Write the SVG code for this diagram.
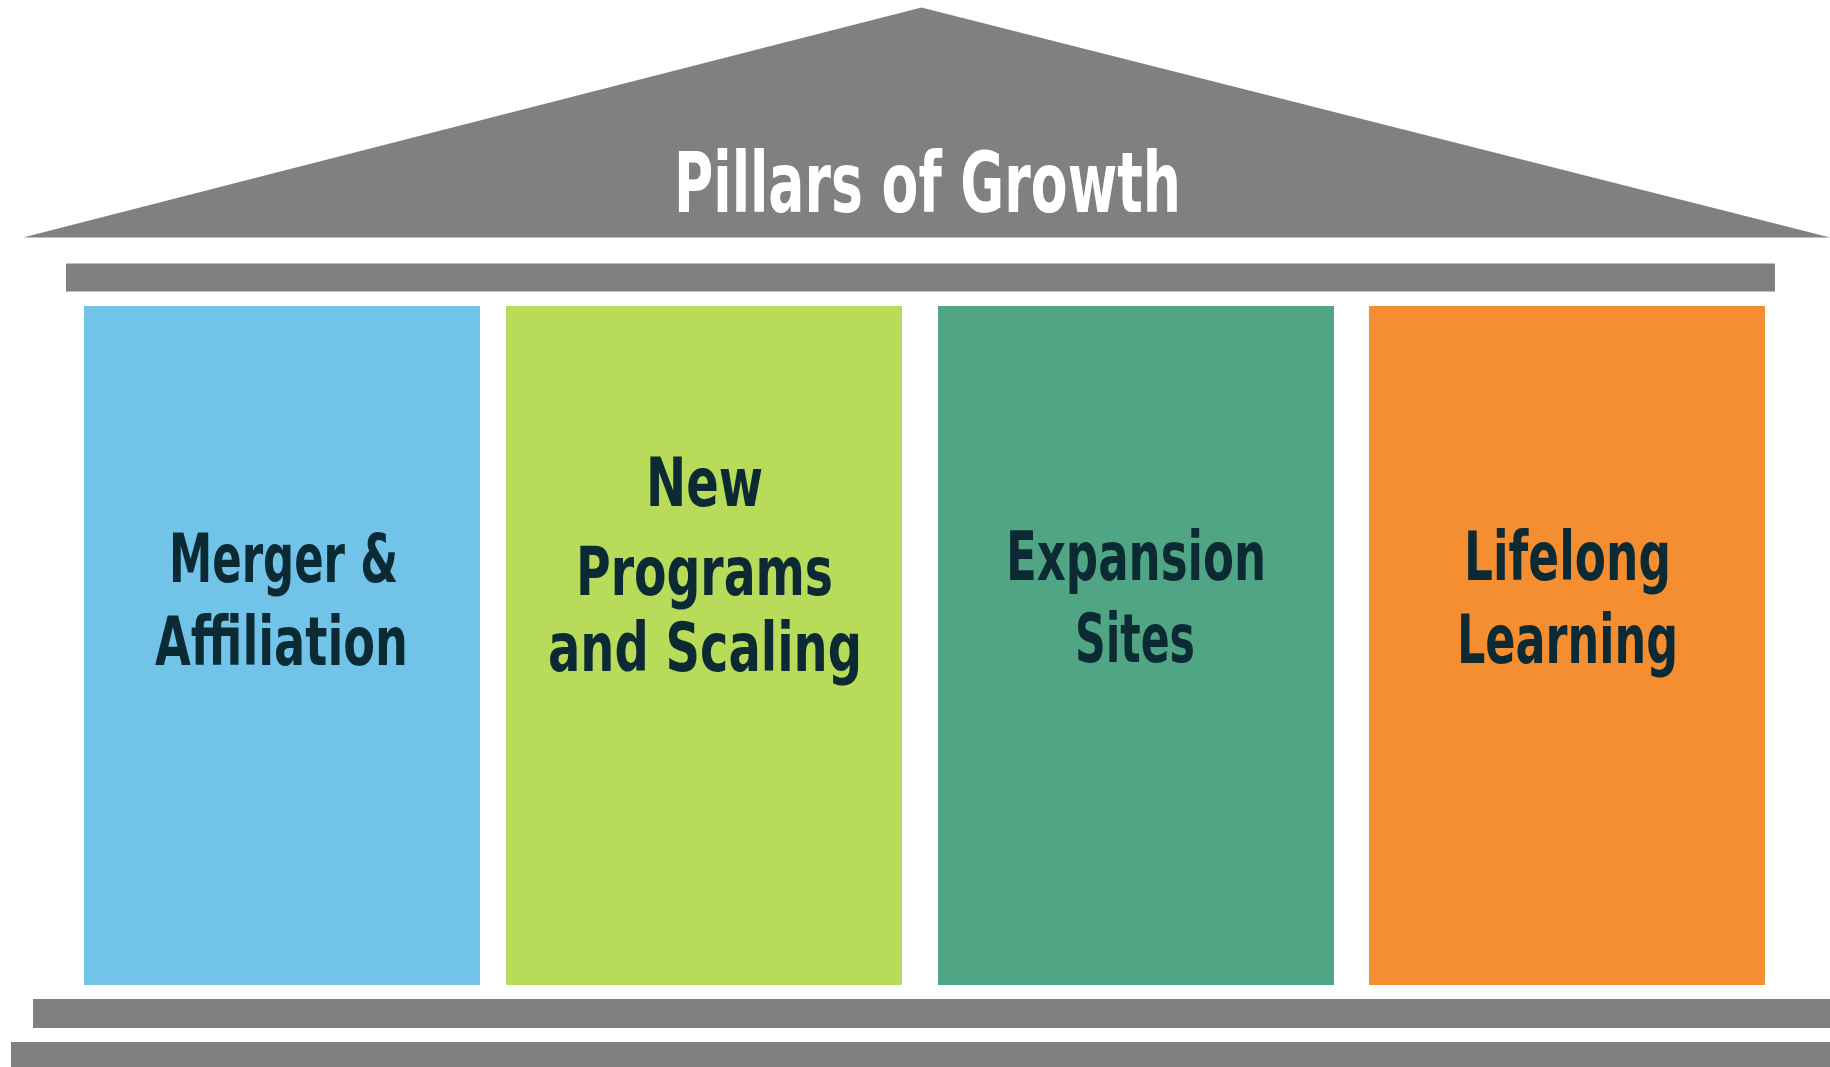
<svg xmlns="http://www.w3.org/2000/svg" width="1830" height="1067" viewBox="0 0 1830 1067">
<style>
.gray{fill:#808080}
.lbl{font-family:"Liberation Sans Narrow","DejaVu Sans Condensed","Liberation Sans",sans-serif;font-weight:bold;font-size:68px;fill:#0B2A33;text-anchor:middle}
.title{font-family:"Liberation Sans Narrow","DejaVu Sans Condensed","Liberation Sans",sans-serif;font-weight:bold;font-size:84px;fill:#ffffff;text-anchor:middle}
</style>
<rect width="1830" height="1067" fill="#ffffff"/>
<g id="roof">
<polygon class="gray" points="921.5,7.5 1830,237.5 23,237.5"/>
<text class="title" x="927.5" y="212" textLength="507" lengthAdjust="spacingAndGlyphs">Pillars of Growth</text>
</g>
<g id="beam"><rect class="gray" x="66" y="263.5" width="1709" height="28"/></g>
<g id="pillar-merger">
<rect x="84" y="306" width="396" height="679" fill="#71C4E8"/>
<text class="lbl" x="283.5" y="582" textLength="229" lengthAdjust="spacingAndGlyphs">Merger &amp;</text>
<text class="lbl" x="281.5" y="665" textLength="253" lengthAdjust="spacingAndGlyphs">Affiliation</text>
</g>
<g id="pillar-programs">
<rect x="506" y="306" width="396" height="679" fill="#B8DB5A"/>
<text class="lbl" x="704.5" y="506" textLength="117" lengthAdjust="spacingAndGlyphs">New</text>
<text class="lbl" x="704.5" y="595" textLength="257" lengthAdjust="spacingAndGlyphs">Programs</text>
<text class="lbl" x="705" y="671" textLength="314" lengthAdjust="spacingAndGlyphs">and Scaling</text>
</g>
<g id="pillar-expansion">
<rect x="938" y="306" width="396" height="679" fill="#50A584"/>
<text class="lbl" x="1136" y="580" textLength="260" lengthAdjust="spacingAndGlyphs">Expansion</text>
<text class="lbl" x="1135" y="662" textLength="120" lengthAdjust="spacingAndGlyphs">Sites</text>
</g>
<g id="pillar-lifelong">
<rect x="1369" y="306" width="396" height="679" fill="#F58E30"/>
<text class="lbl" x="1567.5" y="580" textLength="207" lengthAdjust="spacingAndGlyphs">Lifelong</text>
<text class="lbl" x="1567.5" y="663" textLength="221" lengthAdjust="spacingAndGlyphs">Learning</text>
</g>
<g id="base">
<rect class="gray" x="33" y="999" width="1797" height="29"/>
<rect class="gray" x="11" y="1042" width="1819" height="25"/>
</g>
</svg>
